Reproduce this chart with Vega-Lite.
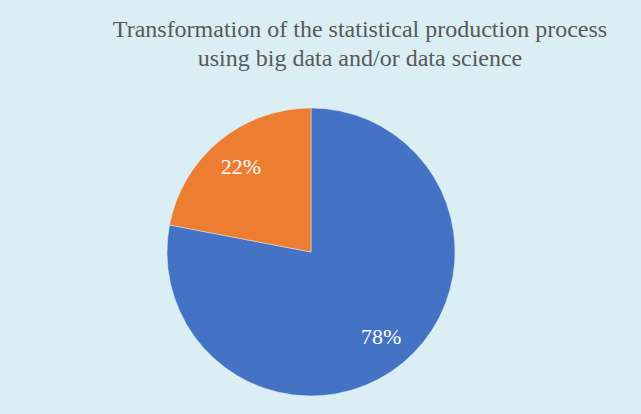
{
  "$schema": "https://vega.github.io/schema/vega-lite/v6.json",
  "autosize": "none",
  "width": 622,
  "height": 288,
  "padding": {"left": 0, "top": 108, "right": 19, "bottom": 18},
  "background": "#DAEEF3",
  "view": {"stroke": null},
  "config": {"font": "Liberation Serif", "text": {"font": "Liberation Serif"}},
  "title": {
    "text": ["Transformation of the statistical production process", "using big data and/or data science"],
    "font": "Liberation Serif",
    "fontSize": 24,
    "fontWeight": "normal",
    "color": "#595959",
    "anchor": "middle",
    "dx": 49,
    "lineHeight": 29,
    "offset": 36
  },
  "data": {
    "values": [
      {"category": "Yes", "share": 78, "label": "78%", "idx": 1},
      {"category": "No", "share": 22, "label": "22%", "idx": 2}
    ]
  },
  "encoding": {
    "theta": {"field": "share", "type": "quantitative", "stack": true},
    "order": {"field": "idx", "type": "quantitative"},
    "color": {
      "field": "category",
      "type": "nominal",
      "scale": {"domain": ["Yes", "No"], "range": ["#4472C4", "#ED7D31"]},
      "legend": null
    }
  },
  "layer": [
    {"mark": {"type": "arc", "stroke": "#DAEEF3", "strokeWidth": 0.5}},
    {
      "mark": {"type": "text", "radius": 110, "font": "Liberation Serif", "fontSize": 22, "baseline": "middle", "align": "center"},
      "encoding": {"text": {"field": "label"}, "color": {"value": "white"}}
    }
  ]
}
